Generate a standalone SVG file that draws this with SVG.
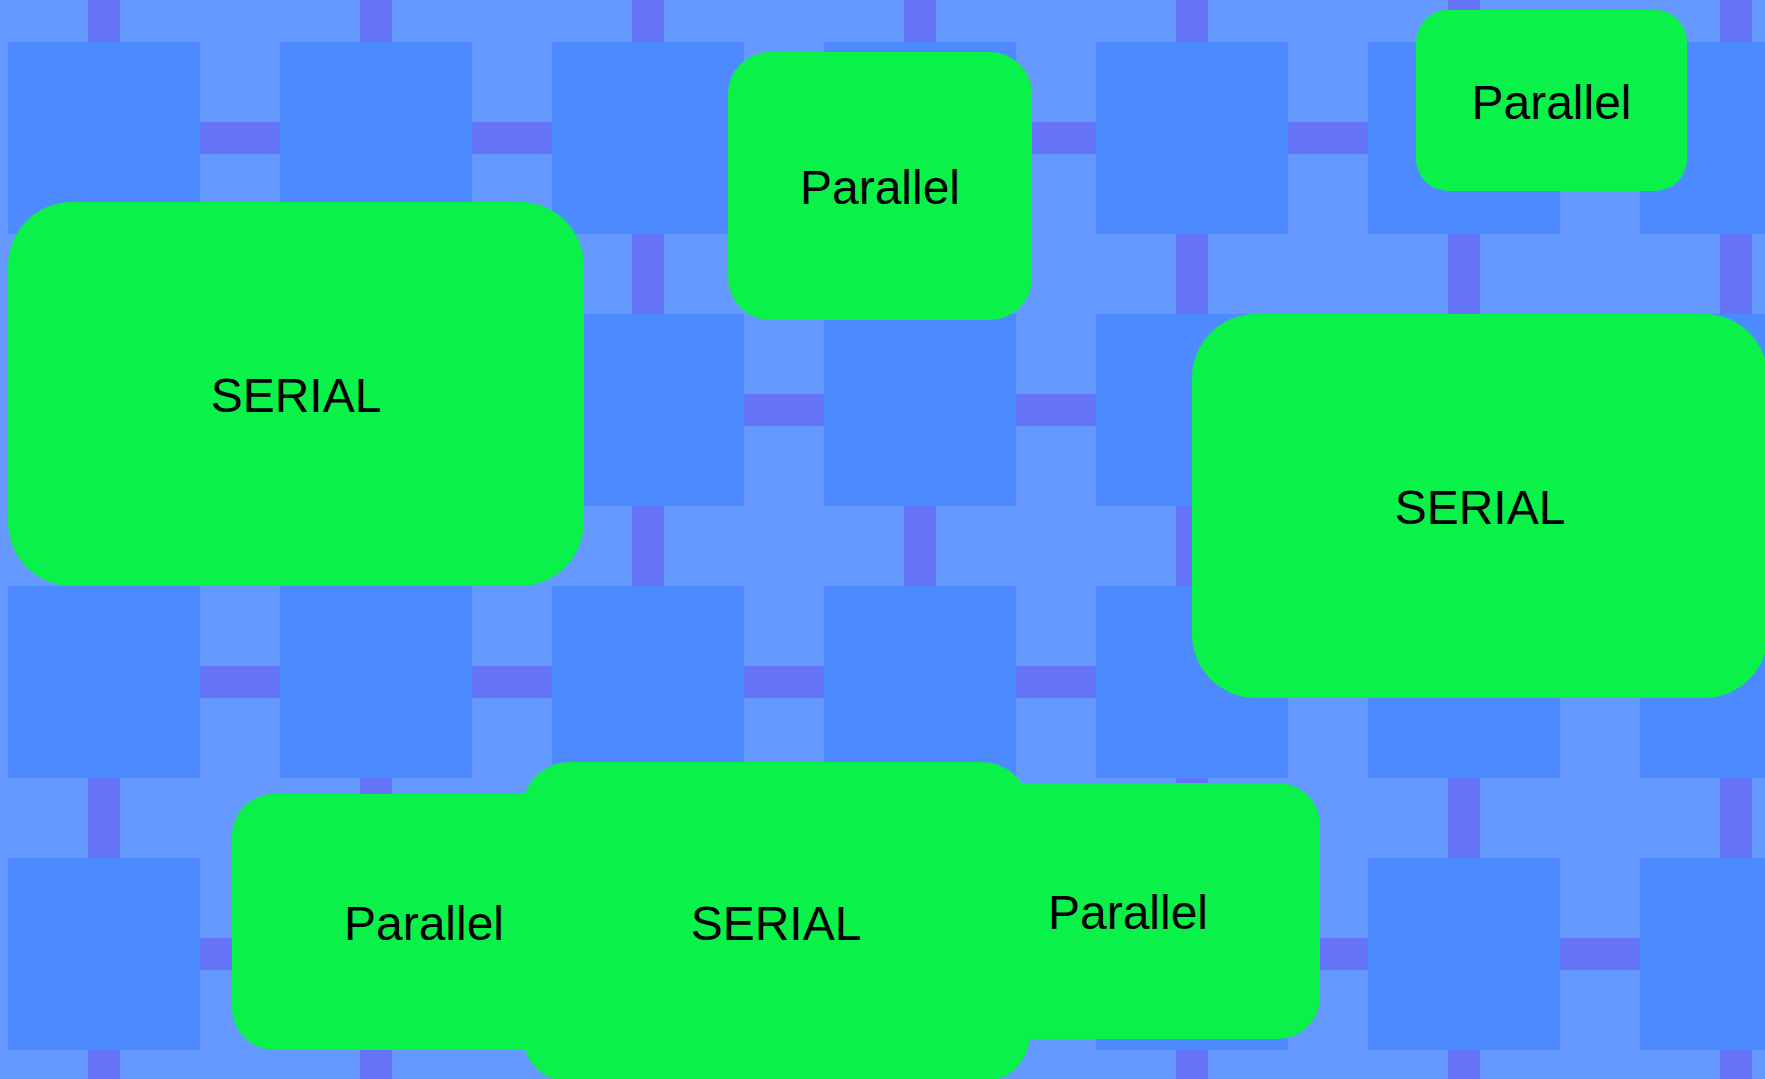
<svg xmlns="http://www.w3.org/2000/svg" width="1765" height="1079" viewBox="0 0 1765 1079">
  <defs>
    <style>
      .bg { fill: #6699ff; }
      .sq { fill: #4d8aff; }
      .bar { fill: #6574f6; }
      .node { fill: #0af24a; }
      .label { font-family: "Liberation Sans", Arial, sans-serif; font-size: 48px; fill: #000000; text-anchor: middle; }
    </style>
  </defs>
  <g id="background">
    <rect class="bg" x="0" y="0" width="1765" height="1079"/>
    <g id="vbars">
      <rect class="bar" x="88" y="0" width="32" height="1079"/>
      <rect class="bar" x="360" y="0" width="32" height="1079"/>
      <rect class="bar" x="632" y="0" width="32" height="1079"/>
      <rect class="bar" x="904" y="0" width="32" height="1079"/>
      <rect class="bar" x="1176" y="0" width="32" height="1079"/>
      <rect class="bar" x="1448" y="0" width="32" height="1079"/>
      <rect class="bar" x="1720" y="0" width="32" height="1079"/>
    </g>
    <g id="hbars">
      <rect class="bar" x="8" y="122" width="1757" height="32"/>
      <rect class="bar" x="8" y="394" width="1757" height="32"/>
      <rect class="bar" x="8" y="666" width="1757" height="32"/>
      <rect class="bar" x="8" y="938" width="1757" height="32"/>
    </g>
    <g id="gaps" class="bg">
      <rect x="200" y="0" width="80" height="122"/><rect x="200" y="154" width="80" height="240"/><rect x="200" y="426" width="80" height="240"/><rect x="200" y="698" width="80" height="240"/><rect x="200" y="970" width="80" height="109"/>
      <rect x="472" y="0" width="80" height="122"/><rect x="472" y="154" width="80" height="240"/><rect x="472" y="426" width="80" height="240"/><rect x="472" y="698" width="80" height="240"/><rect x="472" y="970" width="80" height="109"/>
      <rect x="744" y="0" width="80" height="122"/><rect x="744" y="154" width="80" height="240"/><rect x="744" y="426" width="80" height="240"/><rect x="744" y="698" width="80" height="240"/><rect x="744" y="970" width="80" height="109"/>
      <rect x="1016" y="0" width="80" height="122"/><rect x="1016" y="154" width="80" height="240"/><rect x="1016" y="426" width="80" height="240"/><rect x="1016" y="698" width="80" height="240"/><rect x="1016" y="970" width="80" height="109"/>
      <rect x="1288" y="0" width="80" height="122"/><rect x="1288" y="154" width="80" height="240"/><rect x="1288" y="426" width="80" height="240"/><rect x="1288" y="698" width="80" height="240"/><rect x="1288" y="970" width="80" height="109"/>
      <rect x="1560" y="0" width="80" height="122"/><rect x="1560" y="154" width="80" height="240"/><rect x="1560" y="426" width="80" height="240"/><rect x="1560" y="698" width="80" height="240"/><rect x="1560" y="970" width="80" height="109"/>
      <rect x="0" y="0" width="88" height="42"/><rect x="120" y="0" width="240" height="42"/><rect x="392" y="0" width="240" height="42"/><rect x="664" y="0" width="240" height="42"/><rect x="936" y="0" width="240" height="42"/><rect x="1208" y="0" width="240" height="42"/><rect x="1480" y="0" width="240" height="42"/><rect x="1752" y="0" width="13" height="42"/>
      <rect x="0" y="234" width="88" height="80"/><rect x="120" y="234" width="240" height="80"/><rect x="392" y="234" width="240" height="80"/><rect x="664" y="234" width="240" height="80"/><rect x="936" y="234" width="240" height="80"/><rect x="1208" y="234" width="240" height="80"/><rect x="1480" y="234" width="240" height="80"/><rect x="1752" y="234" width="13" height="80"/>
      <rect x="0" y="506" width="88" height="80"/><rect x="120" y="506" width="240" height="80"/><rect x="392" y="506" width="240" height="80"/><rect x="664" y="506" width="240" height="80"/><rect x="936" y="506" width="240" height="80"/><rect x="1208" y="506" width="240" height="80"/><rect x="1480" y="506" width="240" height="80"/><rect x="1752" y="506" width="13" height="80"/>
      <rect x="0" y="778" width="88" height="80"/><rect x="120" y="778" width="240" height="80"/><rect x="392" y="778" width="240" height="80"/><rect x="664" y="778" width="240" height="80"/><rect x="936" y="778" width="240" height="80"/><rect x="1208" y="778" width="240" height="80"/><rect x="1480" y="778" width="240" height="80"/><rect x="1752" y="778" width="13" height="80"/>
      <rect x="0" y="1050" width="88" height="29"/><rect x="120" y="1050" width="240" height="29"/><rect x="392" y="1050" width="240" height="29"/><rect x="664" y="1050" width="240" height="29"/><rect x="936" y="1050" width="240" height="29"/><rect x="1208" y="1050" width="240" height="29"/><rect x="1480" y="1050" width="240" height="29"/><rect x="1752" y="1050" width="13" height="29"/>
      <rect x="0" y="0" width="8" height="1079"/>
    </g>
    <g id="squares" class="sq">
      <rect x="8" y="42" width="192" height="192"/><rect x="280" y="42" width="192" height="192"/><rect x="552" y="42" width="192" height="192"/><rect x="824" y="42" width="192" height="192"/><rect x="1096" y="42" width="192" height="192"/><rect x="1368" y="42" width="192" height="192"/><rect x="1640" y="42" width="192" height="192"/>
      <rect x="8" y="314" width="192" height="192"/><rect x="280" y="314" width="192" height="192"/><rect x="552" y="314" width="192" height="192"/><rect x="824" y="314" width="192" height="192"/><rect x="1096" y="314" width="192" height="192"/><rect x="1368" y="314" width="192" height="192"/><rect x="1640" y="314" width="192" height="192"/>
      <rect x="8" y="586" width="192" height="192"/><rect x="280" y="586" width="192" height="192"/><rect x="552" y="586" width="192" height="192"/><rect x="824" y="586" width="192" height="192"/><rect x="1096" y="586" width="192" height="192"/><rect x="1368" y="586" width="192" height="192"/><rect x="1640" y="586" width="192" height="192"/>
      <rect x="8" y="858" width="192" height="192"/><rect x="280" y="858" width="192" height="192"/><rect x="552" y="858" width="192" height="192"/><rect x="824" y="858" width="192" height="192"/><rect x="1096" y="858" width="192" height="192"/><rect x="1368" y="858" width="192" height="192"/><rect x="1640" y="858" width="192" height="192"/>
    </g>
  </g>
  <g id="connectors"></g>
  <g id="node-serial-left">
    <rect class="node" x="8" y="202" width="576" height="384" rx="64" ry="64"/>
    <text class="label" x="296" y="412">SERIAL</text>
  </g>
  <g id="node-parallel-top">
    <rect class="node" x="728" y="52" width="304" height="268" rx="42" ry="42"/>
    <text class="label" x="880" y="204">Parallel</text>
  </g>
  <g id="node-parallel-topright">
    <rect class="node" x="1416" y="10" width="271" height="181" rx="32" ry="32"/>
    <text class="label" x="1551.5" y="119">Parallel</text>
  </g>
  <g id="node-serial-right">
    <rect class="node" x="1192" y="314" width="576" height="384" rx="64" ry="64"/>
    <text class="label" x="1480" y="524">SERIAL</text>
  </g>
  <g id="node-parallel-bottomleft">
    <rect class="node" x="232" y="794" width="384" height="256" rx="42" ry="42"/>
    <text class="label" x="424" y="940">Parallel</text>
  </g>
  <g id="node-parallel-bottomright">
    <rect class="node" x="936" y="783" width="384" height="256" rx="42" ry="42"/>
    <text class="label" x="1128" y="929">Parallel</text>
  </g>
  <g id="node-serial-bottom">
    <rect class="node" x="522" y="762" width="508" height="320" rx="48" ry="48"/>
    <text class="label" x="776" y="940">SERIAL</text>
  </g>
</svg>
